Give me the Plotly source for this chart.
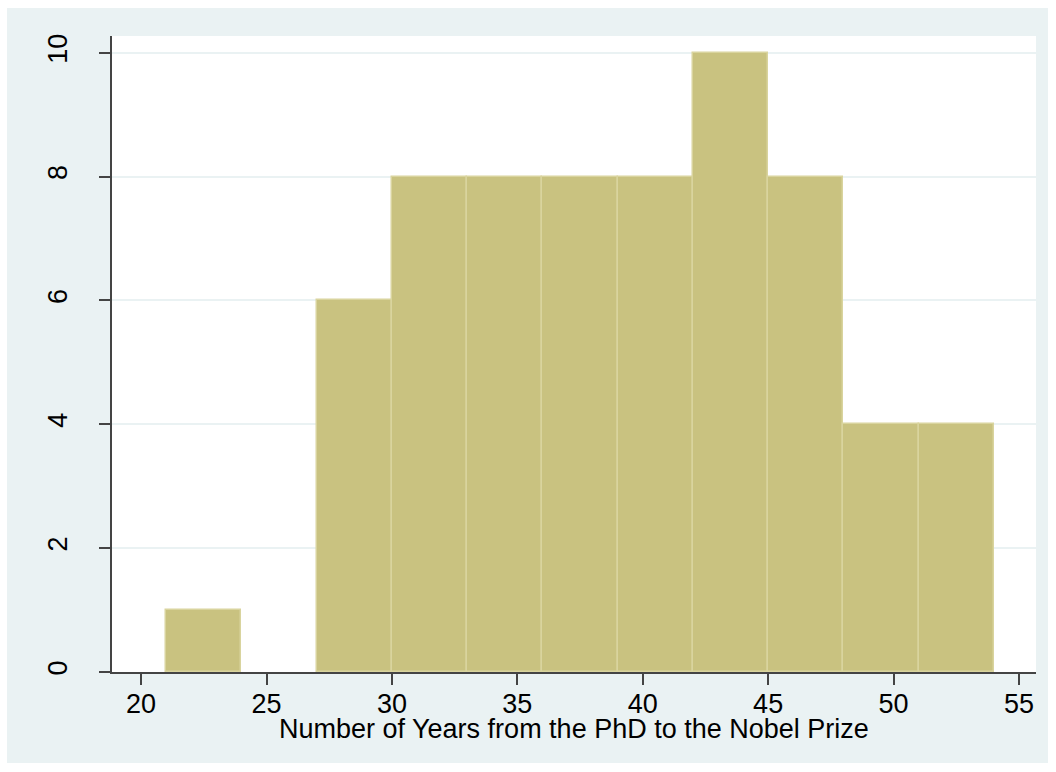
import plotly.graph_objects as go

bin_edges = [21, 24, 27, 30, 33, 36, 39, 42, 45, 48, 51, 54]
counts = [1, 0, 6, 8, 8, 8, 8, 10, 8, 4, 4]
x_ticks = [20, 25, 30, 35, 40, 45, 50, 55]
y_ticks = [0, 2, 4, 6, 8, 10]
x_title = "Number of Years from the PhD to the Nobel Prize"

centers = [(a + b) / 2 for a, b in zip(bin_edges[:-1], bin_edges[1:])]
widths = [b - a for a, b in zip(bin_edges[:-1], bin_edges[1:])]
line_w = [1.5 if c > 0 else 0 for c in counts]

W, H = 1056, 772
L, R, T, B = 112, 20, 36, 100
pw, ph = W - L - R, H - T - B

fig = go.Figure(go.Bar(
    x=centers, y=counts, width=widths,
    marker=dict(color="#C9C280", line=dict(color="#D9D49E", width=line_w)),
))

bg = "#EAF2F3"
fig.update_layout(
    width=W, height=H,
    margin=dict(l=L, r=R, t=T, b=B, pad=0),
    paper_bgcolor="white", plot_bgcolor="white",
    showlegend=False, bargap=0,
    font=dict(family="Liberation Sans, Arial, sans-serif", size=27, color="black"),
    shapes=[
        dict(type="rect", xref="paper", yref="paper", layer="below",
             x0=(7 - L) / pw, x1=(1048 - L) / pw,
             y0=1 - (763 - T) / ph, y1=1 - (8 - T) / ph,
             fillcolor=bg, line=dict(width=0)),
        dict(type="rect", xref="paper", yref="paper", layer="below",
             x0=0, x1=1, y0=0, y1=1, fillcolor="white", line=dict(width=0)),
    ],
    annotations=[
        dict(text=x_title, xref="paper", yref="paper", x=0.5,
             y=1 - (729 - T) / ph, xanchor="center", yanchor="middle",
             showarrow=False, font=dict(size=27)),
    ],
    xaxis=dict(
        range=[18.84, 55.68], tickvals=x_ticks, ticks="outside", ticklen=11,
        tickwidth=1.5, tickcolor="#444", showline=True, linecolor="#444", linewidth=1.5,
        showgrid=False, zeroline=False, ticklabelstandoff=-4,
    ),
    yaxis=dict(
        range=[0, 10.27], tickvals=y_ticks, ticks="outside", ticklen=11,
        tickwidth=1.5, tickcolor="#444", showline=True, linecolor="#444", linewidth=1.5,
        showgrid=True, gridcolor=bg, gridwidth=1.5, zeroline=False,
        tickangle=-90, ticklabelstandoff=21,
    ),
)

fig.write_html("out.html", post_script="document.body.style.margin='0';",
               config={"displayModeBar": False})
